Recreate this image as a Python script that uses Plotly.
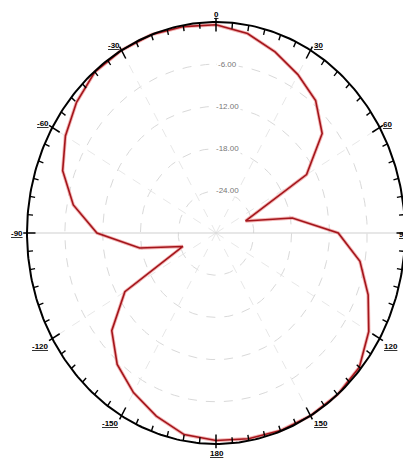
import numpy as np
import plotly.graph_objects as go

# ---- data (angle in degrees, clockwise from top; gain in dB) ----
angles_deg = [0, 10, 20, 30, 40, 50, 60, 70, 80, 90, 100, 110, 120, 130, 140, 150, 160, 170, 180,
              -170, -160, -150, -140, -130, -120, -110, -100, -90, -80, -70, -60, -50, -40, -30, -20, -10]
gain_db = [-0.4, -1.2, -2.6, -4.0, -5.4, -8.0, -13.4, -25.0, -17.7, -10.6, -6.8, -4.3, -2.0, -0.3, 0.0, 0.0, -0.1, -0.3, -0.5,
           -0.9, -2.3, -3.8, -5.6, -8.4, -13.3, -24.4, -17.7, -11.1, -7.0, -4.1, -2.4, -1.1, -0.1, 0.0, 0.0, -0.2]
r_min, r_max = -30.0, 0.0
ring_values = [-6, -12, -18, -24]
ring_labels = ["-6.00", "-12.00", "-18.00", "-24.00"]
angle_tick_values = [0, 30, 60, 90, 120, 150, 180, -150, -120, -90, -60, -30]
angle_tick_labels = ["0", "30", "60", "90", "120", "150", "180", "-150", "-120", "-90", "-60", "-30"]

PAGE_OFF = 8               # default body margin of the page
W, H = 411 - PAGE_OFF, 459 - PAGE_OFF
cx, cy = 216 - PAGE_OFF, 233 - PAGE_OFF   # centre pixel inside the figure
rx, ry = 189, 211          # ellipse radii in pixels


def norm(db):
    return (np.asarray(db, dtype=float) - r_min) / (r_max - r_min)


def xy(theta_deg, rn):
    t = np.radians(theta_deg)
    return rn * np.sin(t), rn * np.cos(t)


fig = go.Figure()

# grid rings
for rv in ring_values:
    t = np.arange(0, 361, 1)
    x, y = xy(t, norm(rv) * np.ones_like(t, dtype=float))
    fig.add_trace(go.Scatter(x=x, y=y, mode="lines", hoverinfo="skip",
                             line=dict(color="#d9d9d9", width=1, dash="dash")))

# spokes
sx, sy = [], []
for a in [30, 60, 120, 150, -30, -60, -120, -150]:
    x, y = xy(a, 1.0)
    sx += [0, x, None]
    sy += [0, y, None]
fig.add_trace(go.Scatter(x=sx, y=sy, mode="lines", hoverinfo="skip",
                         line=dict(color="#e8e8e8", width=1, dash="dash")))
fig.add_trace(go.Scatter(x=[-1, 1], y=[0, 0], mode="lines", hoverinfo="skip",
                         line=dict(color="#cfcfcf", width=1)))

# pattern
th = np.array(angles_deg + [angles_deg[0]], dtype=float)
rn = norm(gain_db + [gain_db[0]])
px, py = xy(th, rn)
fig.add_trace(go.Scatter(x=px, y=py, mode="lines", hoverinfo="skip",
                         line=dict(color="rgba(235,130,130,0.6)", width=3.4)))
fig.add_trace(go.Scatter(x=px, y=py, mode="lines", hoverinfo="skip",
                         line=dict(color="#a3151b", width=1.6)))

# outer boundary
t = np.arange(0, 361, 1)
ox, oy = xy(t, np.ones_like(t, dtype=float))
fig.add_trace(go.Scatter(x=ox, y=oy, mode="lines", hoverinfo="skip",
                         line=dict(color="black", width=2)))

# ticks
tx, ty = [], []
Tx, Ty = [], []
for a in range(-180, 180, 5):
    if a % 30 == 0:
        x0, y0 = xy(a, 1.02)
        x1, y1 = xy(a, 0.955)
        Tx += [x0, x1, None]
        Ty += [y0, y1, None]
    else:
        x0, y0 = xy(a, 1.0)
        x1, y1 = xy(a, 0.972)
        tx += [x0, x1, None]
        ty += [y0, y1, None]
fig.add_trace(go.Scatter(x=tx, y=ty, mode="lines", hoverinfo="skip",
                         line=dict(color="black", width=1.4)))
fig.add_trace(go.Scatter(x=Tx, y=Ty, mode="lines", hoverinfo="skip",
                         line=dict(color="black", width=1.5)))

# angular labels
shifts = {0: (0, 8), 30: (8, 5), 60: (8, 3), 120: (11, -8), 150: (10, -8),
          180: (1, -9), -150: (-11, -8), -120: (-12, -8), -90: (-10, 0), -60: (-9, 4), -30: (-8, 5)}
for a, lab in zip(angle_tick_values, angle_tick_labels):
    x, y = xy(a, 1.0)
    if a == 90:
        fig.add_annotation(x=float(x), y=float(y), text="<b><u>" + lab + "</u></b>", showarrow=False,
                           xanchor="right", xshift=5, yshift=-1,
                           font=dict(family="Liberation Sans, Arial", size=8, color="black"))
        continue
    dx, dy = shifts[a]
    fig.add_annotation(x=float(x), y=float(y), text="<b><u>" + lab + "</u></b>", showarrow=False,
                       xshift=dx, yshift=dy, font=dict(family="Liberation Sans, Arial", size=8, color="black"))

# radial labels
for rv, lab in zip(ring_values, ring_labels):
    fig.add_annotation(x=0.06, y=float(norm(rv)), text=lab, showarrow=False,
                       font=dict(family="Liberation Sans, Arial", size=8, color="#777777"),
                       bgcolor="white")

fig.update_layout(
    width=W, height=H, autosize=False,
    margin=dict(l=0, r=0, t=0, b=0),
    paper_bgcolor="white", plot_bgcolor="white",
    showlegend=False,
    xaxis=dict(range=[-cx / rx, (W - cx) / rx], visible=False, fixedrange=True),
    yaxis=dict(range=[-(H - cy) / ry, cy / ry], visible=False, fixedrange=True),
)

fig.write_html("out.html")
